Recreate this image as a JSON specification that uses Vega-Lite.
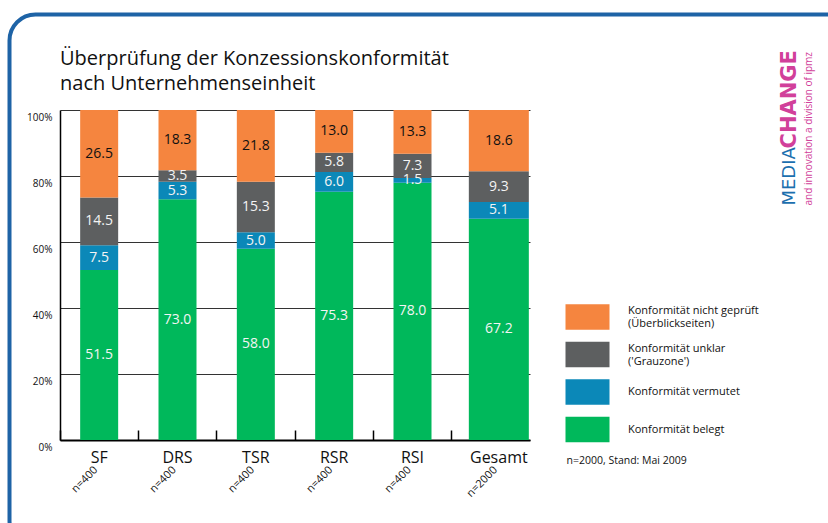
{
  "$schema": "https://vega.github.io/schema/vega-lite/v6.json",
  "width": 470,
  "height": 330,
  "autosize": {"type": "none"},
  "padding": {"left": 60, "top": 110, "right": 298, "bottom": 83},
  "background": "white",
  "title": {
    "text": ["Überprüfung der Konzessionskonformität", "nach Unternehmenseinheit"],
    "anchor": "start",
    "frame": "group",
    "fontSize": 20,
    "fontWeight": "normal",
    "font": "Open Sans",
    "color": "#111111",
    "lineHeight": 25,
    "offset": -81
  },
  "data": {
    "values": [
      {"unit": "SF", "cat": "Konformität belegt", "value": 51.5},
      {"unit": "SF", "cat": "Konformität vermutet", "value": 7.5},
      {"unit": "SF", "cat": "Konformität unklar", "value": 14.5},
      {"unit": "SF", "cat": "Konformität nicht geprüft", "value": 26.5},
      {"unit": "DRS", "cat": "Konformität belegt", "value": 73.0},
      {"unit": "DRS", "cat": "Konformität vermutet", "value": 5.3},
      {"unit": "DRS", "cat": "Konformität unklar", "value": 3.5},
      {"unit": "DRS", "cat": "Konformität nicht geprüft", "value": 18.3},
      {"unit": "TSR", "cat": "Konformität belegt", "value": 58.0},
      {"unit": "TSR", "cat": "Konformität vermutet", "value": 5.0},
      {"unit": "TSR", "cat": "Konformität unklar", "value": 15.3},
      {"unit": "TSR", "cat": "Konformität nicht geprüft", "value": 21.8},
      {"unit": "RSR", "cat": "Konformität belegt", "value": 75.3},
      {"unit": "RSR", "cat": "Konformität vermutet", "value": 6.0},
      {"unit": "RSR", "cat": "Konformität unklar", "value": 5.8},
      {"unit": "RSR", "cat": "Konformität nicht geprüft", "value": 13.0},
      {"unit": "RSI", "cat": "Konformität belegt", "value": 78.0},
      {"unit": "RSI", "cat": "Konformität vermutet", "value": 1.5},
      {"unit": "RSI", "cat": "Konformität unklar", "value": 7.3},
      {"unit": "RSI", "cat": "Konformität nicht geprüft", "value": 13.3},
      {"unit": "Gesamt", "cat": "Konformität belegt", "value": 67.2},
      {"unit": "Gesamt", "cat": "Konformität vermutet", "value": 5.1},
      {"unit": "Gesamt", "cat": "Konformität unklar", "value": 9.3},
      {"unit": "Gesamt", "cat": "Konformität nicht geprüft", "value": 18.6}
    ]
  },
  "transform": [
    {"calculate": "indexof(['Konformität belegt','Konformität vermutet','Konformität unklar','Konformität nicht geprüft'], datum.cat)", "as": "ord"},
    {"stack": "value", "groupby": ["unit"], "sort": [{"field": "ord", "order": "ascending"}], "offset": "normalize", "as": ["y0", "y1"]},
    {"calculate": "(datum.y0 + datum.y1) / 2", "as": "ym"}
  ],
  "layer": [
    {
      "transform": [{"filter": "datum.unit !== 'Gesamt'"}],
      "mark": {"type": "bar", "width": 38},
      "encoding": {
        "x": {
          "field": "unit", "type": "nominal",
          "scale": {"domain": ["SF", "DRS", "TSR", "RSR", "RSI", "Gesamt"], "paddingInner": 0, "paddingOuter": 0},
          "axis": {
            "title": "n=2000, Stand: Mai 2009",
            "titleX": 506, "titleY": 20, "titleAnchor": "start", "titleAlign": "left", "titleBaseline": "middle",
            "titleFontSize": 10.5, "titleFontWeight": "normal", "titleFont": "Open Sans", "titleColor": "#111111",
            "labelAngle": 0, "labelFontSize": 16, "labelColor": "#111111", "labelFont": "Open Sans",
            "labelPadding": 19, "labelBaseline": "top",
            "labelOffset": {"condition": {"test": "datum.value === 'Gesamt'", "value": 8}, "value": 0},
            "bandPosition": 0, "ticks": true, "tickSize": -10, "tickColor": "#000000", "tickWidth": 1.5,
            "domainColor": "#000000", "domainWidth": 2, "grid": false
          }
        },
        "y": {
          "field": "y0", "type": "quantitative",
          "scale": {"domain": [0, 1], "nice": false},
          "axis": {
            "values": [0, 0.2, 0.4, 0.6, 0.8, 1], "format": ".0%", "title": null,
            "grid": true, "gridColor": "#333333", "gridWidth": 1.2,
            "domainColor": "#000000", "domainWidth": 1.5, "ticks": false,
            "labelFontSize": 10, "labelPadding": 8, "labelBaseline": "top", "labelOffset": 2,
            "labelFont": "Open Sans", "labelColor": "#111111"
          }
        },
        "y2": {"field": "y1"},
        "color": {
          "field": "cat", "type": "nominal",
          "scale": {
            "domain": ["Konformität nicht geprüft", "Konformität unklar", "Konformität vermutet", "Konformität belegt"],
            "range": ["#F5853F", "#5D5F60", "#0B88B8", "#00B85B"]
          },
          "legend": {
            "orient": "none", "legendX": 522, "legendY": 201.5, "title": null, "padding": 0,
            "symbolType": "M-4,-2.3H4V2.3H-4Z", "symbolSize": 121, "symbolStrokeWidth": 0, "symbolOpacity": 1,
            "labelFontSize": 11, "labelFont": "Open Sans", "labelColor": "#111111", "labelOffset": 35,
            "rowPadding": 10.5, "labelLimit": 300, "labelLineHeight": 14.5,
            "labelExpr": "datum.label === 'Konformität nicht geprüft' ? ['Konformität nicht geprüft', '(Überblickseiten)'] : datum.label === 'Konformität unklar' ? ['Konformität unklar', \"('Grauzone')\"] : datum.label",
            "encode": {
              "labels": {
                "update": {
                  "dy": [
                    {"test": "datum.label === 'Konformität nicht geprüft' || datum.label === 'Konformität unklar'", "value": -6},
                    {"value": 0}
                  ]
                }
              }
            }
          }
        }
      }
    },
    {
      "transform": [{"filter": "datum.unit === 'Gesamt'"}],
      "mark": {"type": "bar", "width": 60, "xOffset": 8},
      "encoding": {
        "x": {"field": "unit", "type": "nominal", "scale": {"domain": ["SF", "DRS", "TSR", "RSR", "RSI", "Gesamt"], "paddingInner": 0, "paddingOuter": 0}, "axis": null},
        "y": {"field": "y0", "type": "quantitative", "scale": {"domain": [0, 1], "nice": false}, "axis": null},
        "y2": {"field": "y1"},
        "color": {"field": "cat", "type": "nominal", "scale": {"domain": ["Konformität nicht geprüft", "Konformität unklar", "Konformität vermutet", "Konformität belegt"], "range": ["#F5853F", "#5D5F60", "#0B88B8", "#00B85B"]}, "legend": null}
      }
    },
    {
      "transform": [{"filter": "datum.unit !== 'Gesamt'"}],
      "mark": {"type": "text", "font": "Open Sans", "fontSize": 14, "baseline": "middle", "align": "center"},
      "encoding": {
        "x": {
          "field": "unit", "type": "nominal",
          "scale": {"domain": ["SF", "DRS", "TSR", "RSR", "RSI", "Gesamt"], "paddingInner": 0, "paddingOuter": 0},
          "axis": {
            "orient": "bottom", "title": null, "domain": false, "ticks": false, "grid": false,
            "labelExpr": "datum.value === 'Gesamt' ? 'n=2000' : 'n=400'",
            "labelAngle": -45, "labelAlign": "right", "labelBaseline": "middle", "labelPadding": 28,
            "labelFontSize": 11, "labelFont": "Open Sans", "labelColor": "#111111",
            "labelOffset": {"condition": {"test": "datum.value === 'Gesamt'", "value": 5}, "value": -3}
          }
        },
        "y": {
          "field": "ym", "type": "quantitative",
          "scale": {"domain": [0, 1], "nice": false},
          "axis": {
            "orient": "right", "values": [0.712, 0.885], "title": "and innovation  a division of ipmz",
            "labelExpr": "datum.value < 0.8 ? 'MEDIA' : 'CHANGE'",
            "labelAngle": 270, "labelAlign": "left", "labelBaseline": "middle", "labelPadding": 259,
            "labelFont": "DejaVu Sans",
            "labelFontSize": {"condition": {"test": "datum.value < 0.8", "value": 18}, "value": 21},
            "labelColor": {"condition": {"test": "datum.value < 0.8", "value": "#1c6fae"}, "value": "#d1409a"},
            "labelFontWeight": {"condition": {"test": "datum.value < 0.8", "value": "normal"}, "value": "bold"},
            "labelOverlap": false, "labelFlush": false, "labelBound": false,
            "domain": false, "ticks": false, "grid": false,
            "titleAngle": 270, "titleX": 278, "titleY": 95, "titleAlign": "left", "titleBaseline": "middle",
            "titleFontSize": 10, "titleFontWeight": "normal", "titleColor": "#d1409a", "titleFont": "Open Sans"
          }
        },
        "text": {"field": "value", "type": "quantitative", "format": ".1f"},
        "color": {"condition": {"test": "datum.cat === 'Konformität nicht geprüft'", "value": "#111111"}, "value": "#f4f4f4"}
      }
    },
    {
      "transform": [{"filter": "datum.unit === 'Gesamt'"}],
      "mark": {"type": "text", "font": "Open Sans", "fontSize": 14, "baseline": "middle", "align": "center", "xOffset": 8},
      "encoding": {
        "x": {"field": "unit", "type": "nominal", "scale": {"domain": ["SF", "DRS", "TSR", "RSR", "RSI", "Gesamt"], "paddingInner": 0, "paddingOuter": 0}, "axis": null},
        "y": {"field": "ym", "type": "quantitative", "scale": {"domain": [0, 1], "nice": false}, "axis": null},
        "text": {"field": "value", "type": "quantitative", "format": ".1f"},
        "color": {"condition": {"test": "datum.cat === 'Konformität nicht geprüft'", "value": "#111111"}, "value": "#f4f4f4"}
      }
    },
    {
      "mark": {"type": "text", "opacity": 0},
      "encoding": {
        "x": {"field": "unit", "type": "nominal", "scale": {"domain": ["SF", "DRS", "TSR", "RSR", "RSI", "Gesamt"], "paddingInner": 0, "paddingOuter": 0}, "axis": null},
        "y": {"field": "ym", "type": "quantitative", "scale": {"domain": [0, 1], "nice": false}, "axis": null},
        "text": {"value": ""},
        "color": {
          "field": "value", "type": "quantitative",
          "scale": {"range": ["#ffffff", "#ffffff"]},
          "legend": {
            "orient": "none", "legendX": -50.5, "legendY": -95.5, "direction": "horizontal",
            "title": null, "labelExpr": "''", "labelOpacity": 0, "tickCount": 1, "padding": 0,
            "gradientLength": 860, "gradientThickness": 520, "gradientStrokeWidth": 0,
            "strokeColor": "#1e63a6", "cornerRadius": 26,
            "encode": {
              "gradient": {"update": {"opacity": {"value": 0}}},
              "legend": {"update": {"stroke": {"value": "#1e63a6"}, "strokeWidth": {"value": 4}}}
            }
          }
        }
      }
    }
  ],
  "resolve": {"axis": {"x": "independent", "y": "independent"}, "scale": {"color": "independent"}, "legend": {"color": "independent"}},
  "config": {"view": {"stroke": null}, "font": "Open Sans"}
}
